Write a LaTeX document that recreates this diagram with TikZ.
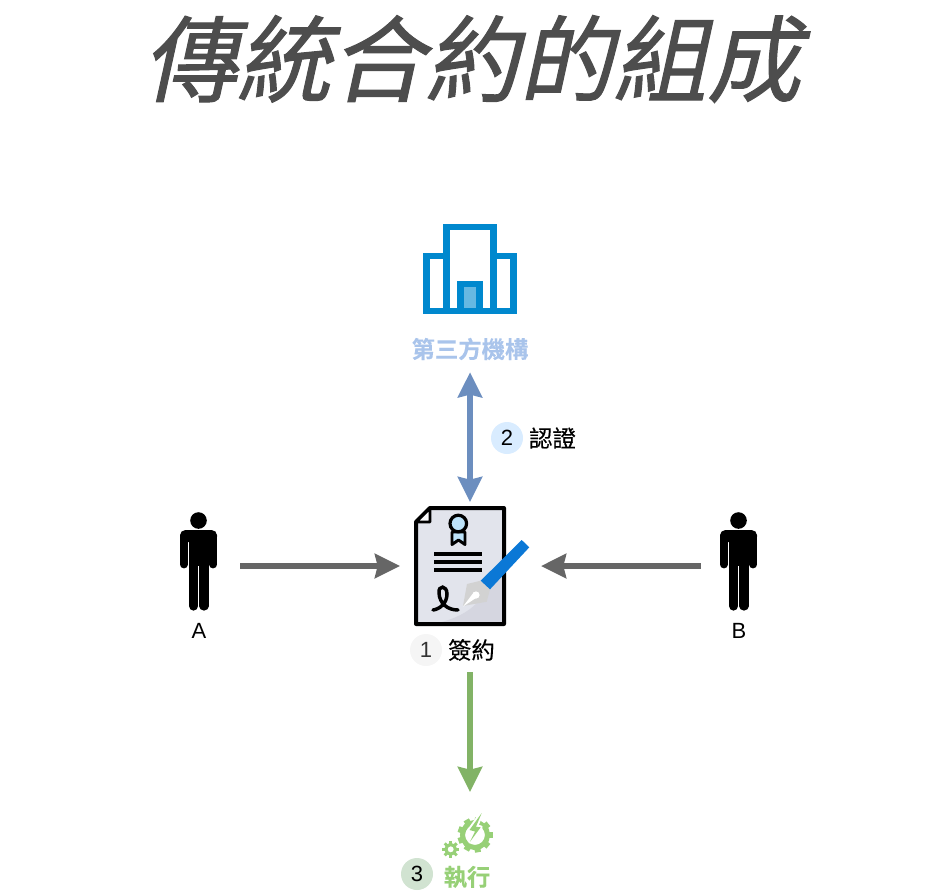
\documentclass[tikz,border=0pt]{standalone}
\usepackage{fontspec}
\setmainfont{Liberation Sans}
\newfontfamily\cjk[FakeBold=0.35]{Noto Sans CJK TC}
\newfontfamily\cjkbold[FakeBold=0.3,BoldFont={}]{Noto Sans CJK TC Bold}
\newfontfamily\cjktitle[FakeSlant=0.22,FakeBold=1.1]{Noto Sans CJK TC}
\usepackage{tikz}
\usetikzlibrary{arrows.meta}
\definecolor{titlegray}{HTML}{4D4D4D}
\definecolor{flowgray}{HTML}{666666}
\definecolor{flowblue}{HTML}{6C8EBF}
\definecolor{flowgreen}{HTML}{82B366}
\definecolor{gearcol}{HTML}{97D077}
\definecolor{orgcol}{HTML}{A9C4EB}
\definecolor{bldcol}{HTML}{0088CE}
\definecolor{paper}{HTML}{E2E4EC}
\definecolor{papershade}{HTML}{D5D6E0}
\definecolor{pencol}{HTML}{0B78D6}
\definecolor{medal}{HTML}{BDE3FA}

\begin{document}
\begin{tikzpicture}[x=0.75pt,y=-0.75pt,
  flow/.style={line width=4.4pt,-{Stealth[length=18.75pt,width=18pt,inset=2pt]}},
  flowboth/.style={line width=4.4pt,{Stealth[length=18.75pt,width=18pt,inset=2pt]}-{Stealth[length=18.75pt,width=18pt,inset=2pt]}},
  icon/.style={inner sep=0pt,outer sep=0pt},
  badge/.style={circle,inner sep=0pt,minimum size=24pt,font=\fontsize{16.5}{16.5}\selectfont},
  caption/.style={inner sep=0pt,font=\cjk\fontsize{17.5}{17.5}\selectfont},
  letter/.style={inner sep=0pt,font=\fontsize{16.5}{16.5}\selectfont},
  person/.pic={
    \fill (-0.5,-45.5) circle (8.3);
    \fill[rounded corners=4pt] (-19,-24) -- (-19,-36) -- (18,-36) -- (18,-24) -- cycle;
    \fill (-10,-30) rectangle (10,0);
    \draw[line width=5.8pt,line cap=round] (-15.1,-30) -- (-15.1,-1.5);
    \draw[line width=5.8pt,line cap=round] (14.1,-30) -- (14.1,-1.5);
    \draw[line width=6.9pt,line cap=round] (-5.4,-5) -- (-5.4,40);
    \draw[line width=6.9pt,line cap=round] (4.9,-5) -- (4.9,40);
  }]
\useasboundingbox (0,0) rectangle (941,894);

\node[inner sep=0pt,text=titlegray,font=\cjktitle\fontsize{70.5}{70.5}\selectfont] (title) at (472,59) {傳統合約的組成};

% the two parties
\node[icon,minimum width=28.5pt,minimum height=81pt] (personA) at (199,566) {};
\node[icon,minimum width=28.5pt,minimum height=81pt] (personB) at (739,566) {};
\pic at (199,566) {person};
\pic at (739,566) {person};
\node[letter] (labelA) at (199,631) {A};
\node[letter] (labelB) at (739,631) {B};

% contract
\node[icon,minimum width=90pt,minimum height=90pt] (contract) at (470,566) {};
\fill[paper] (430,508) -- (504,508) -- (504,624) -- (416,624) -- (416,522) -- cycle;
\fill[papershade] (503,550) .. controls (490,600) and (470,615) .. (438,623) -- (503,623) -- cycle;
\draw[line width=3pt,line join=round] (430,508) -- (504,508) -- (504,624) -- (416,624) -- (416,522) -- cycle;
\draw[line width=2.2pt,fill=white!85!paper,line join=round] (416,522) -- (430,522) -- (430,508) -- cycle;
\draw[line width=2.2pt,fill=medal,line join=round] (452,532) -- (465,532) -- (465,544.5) -- (458.5,540) -- (452,544.5) -- cycle;
\draw[line width=2.4pt,fill=medal] (458.3,523.5) circle (8.3);
\foreach \ly in {554,561.5,570}
  \draw[line width=3pt] (434,\ly) -- (482,\ly);
\draw[line width=2.6pt,line cap=round] (433,610) .. controls (440,609) and (447,603) .. (447,594)
  .. controls (447,585) and (438,585) .. (439,593)
  .. controls (439.5,603) and (447,610) .. (458,610);
\fill[gray!35] (467,584) -- (480.7,580.7) -- (490,589.3) -- (486.7,601.7) -- (463,606) -- cycle;
\fill[white] (463,606.5) -- (474,592) -- (479,596) -- cycle;
\fill[white] (476,595) circle (3.6);
\fill[pencol] (480.7,580.7) -- (521.7,540) -- (529.3,547.3) -- (490,589.3) -- cycle;

\node[badge,fill=black!4,text=black!80] (badge1) at (426,650) {1};
\node[caption] (sign) at (471.5,650) {簽約};

% third party
\node[icon,minimum width=70pt,minimum height=68pt] (building) at (470,269) {};
\draw[bldcol,line width=4.7pt] (426.4,255.8) rectangle (513.6,310.9);
\draw[bldcol,line width=4.7pt,fill=white] (446.4,227.1) rectangle (493.6,310.9);
\draw[bldcol,line width=4.7pt,fill=bldcol!60!white] (460.4,283.8) rectangle (479.6,310.9);
\node[caption,text=orgcol,font=\cjkbold\fontsize{17.5}{17.5}\selectfont,minimum height=18pt] (org) at (470,349) {第三方機構};
\node[badge,fill=blue!50!cyan!15] (badge2) at (507,438) {2};
\node[caption] (verify) at (552.5,438) {認證};

% execution
\node[icon,minimum width=37.5pt,minimum height=34.5pt] (gear) at (470,835) {};
\draw[gearcol,line width=3.8pt] (475,835) circle (12.5);
\foreach \a in {0,40,...,320}
  \draw[gearcol,line width=4.5pt] (475,835) ++(\a:14) -- ++(\a:3.5);
\draw[gearcol,line width=2.4pt] (450.7,849.3) circle (4.8);
\foreach \a in {0,45,...,315}
  \draw[gearcol,line width=2.2pt] (450.7,849.3) ++(\a:5.5) -- ++(\a:3);
\draw[white,line width=3pt,fill=white,line join=round] (481.7,813) -- (469.5,830) -- (475,831.5) -- (470,841.7) -- (480.7,827.3) -- (476,826.7) -- cycle;
\fill[gearcol] (481.7,813) -- (469.5,830) -- (475,831.5) -- (470,841.7) -- (480.7,827.3) -- (476,826.7) -- cycle;
\node[badge,fill=green!40!black!18] (badge3) at (417,874) {3};
\node[caption,text=gearcol,font=\cjkbold\fontsize{17.5}{17.5}\selectfont] (run) at (467,877) {執行};

% connectors
\draw[flow,flowgray,shorten <=16.5pt,shorten >=7.5pt] (personA.east) -- (contract.west);
\draw[flow,flowgray,shorten <=14.3pt,shorten >=8.25pt] (personB.west) -- (contract.east);
\draw[flowboth,flowblue,shorten <=8.25pt,shorten >=3pt] (org.south) -- (contract.north);
\draw[flow,flowgreen,shorten <=34.5pt,shorten >=15pt] (contract.south) -- (gear.north);
\end{tikzpicture}
\end{document}
